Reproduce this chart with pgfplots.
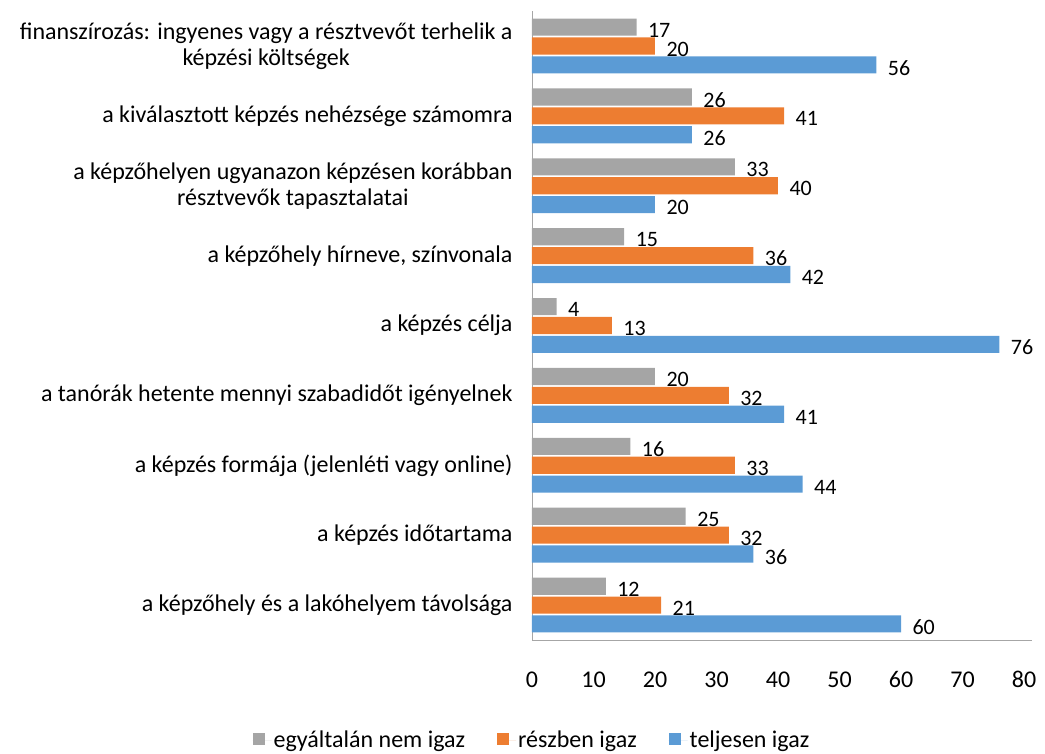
\documentclass[border=0pt]{standalone}
\usepackage{pgfplots}
\pgfplotsset{compat=1.18}
\usepackage{fontspec}
\setmainfont{Carlito}
\definecolor{cgray}{HTML}{A5A5A5}
\definecolor{corange}{HTML}{ED7D31}
\definecolor{cblue}{HTML}{5B9BD5}
\definecolor{caxis}{HTML}{A6A6A6}
\begin{document}
\begin{tikzpicture}
\begin{axis}[
  scale only axis,
  width=492bp, height=629bp,
  xbar, bar shift=0pt, bar width=0.245,
  y dir=reverse,
  xmin=0, xmax=80,
  ymin=0.5, ymax=9.5,
  xtick={0,10,...,80},
  ytick={1,...,9},
  yticklabels={
    {finanszírozás: ingyenes vagy a résztvevőt terhelik a\\képzési költségek},
    {a kiválasztott képzés nehézsége számomra},
    {a képzőhelyen ugyanazon képzésen korábban\\résztvevők tapasztalatai},
    {a képzőhely hírneve, színvonala},
    {a képzés célja},
    {a tanórák hetente mennyi szabadidőt igényelnek},
    {a képzés formája (jelenléti vagy online)},
    {a képzés időtartama},
    {a képzőhely és a lakóhelyem távolsága}},
  yticklabel style={align=center, font=\fontsize{24bp}{26bp}\selectfont, xshift=-16bp},
  xticklabel style={font=\fontsize{24bp}{28bp}\selectfont, yshift=-28bp},
  /pgf/number format/assume math mode=true,
  major tick length=0pt,
  axis x line*=bottom, axis y line*=left,
  axis line style={caxis, -},
  x axis line style={shorten >=-8bp},
  nodes near coords,
  nodes near coords style={font=\fontsize{22bp}{26bp}\selectfont, anchor=west, xshift=8bp, yshift=-3bp, text=black},
  legend style={at={(0.0,-0.159)}, anchor=center, draw=none, legend columns=3,
    font=\fontsize{24bp}{28bp}\selectfont,
    /tikz/every even column/.append style={column sep=30bp}},
  legend image code/.code={\fill[#1] (0bp,-5bp) rectangle (12bp,7bp); \path (0bp,0bp) -- (19bp,0bp);},
  clip=false,
]
\addplot[fill=cgray, draw=none] coordinates {(17,0.73) (26,1.73) (33,2.73) (15,3.73) (4,4.73) (20,5.73) (16,6.73) (25,7.73) (12,8.73)};
\addlegendentry{egyáltalán nem igaz}
\addplot[fill=corange, draw=none] coordinates {(20,1) (41,2) (40,3) (36,4) (13,5) (32,6) (33,7) (32,8) (21,9)};
\addlegendentry{részben igaz}
\addplot[fill=cblue, draw=none] coordinates {(56,1.27) (26,2.27) (20,3.27) (42,4.27) (76,5.27) (41,6.27) (44,7.27) (36,8.27) (60,9.27)};
\addlegendentry{teljesen igaz}
\end{axis}
\path ([shift={(-532bp,-111bp)}]current axis.south west) rectangle ([shift={(21bp,11bp)}]current axis.north east);
\end{tikzpicture}
\end{document}
